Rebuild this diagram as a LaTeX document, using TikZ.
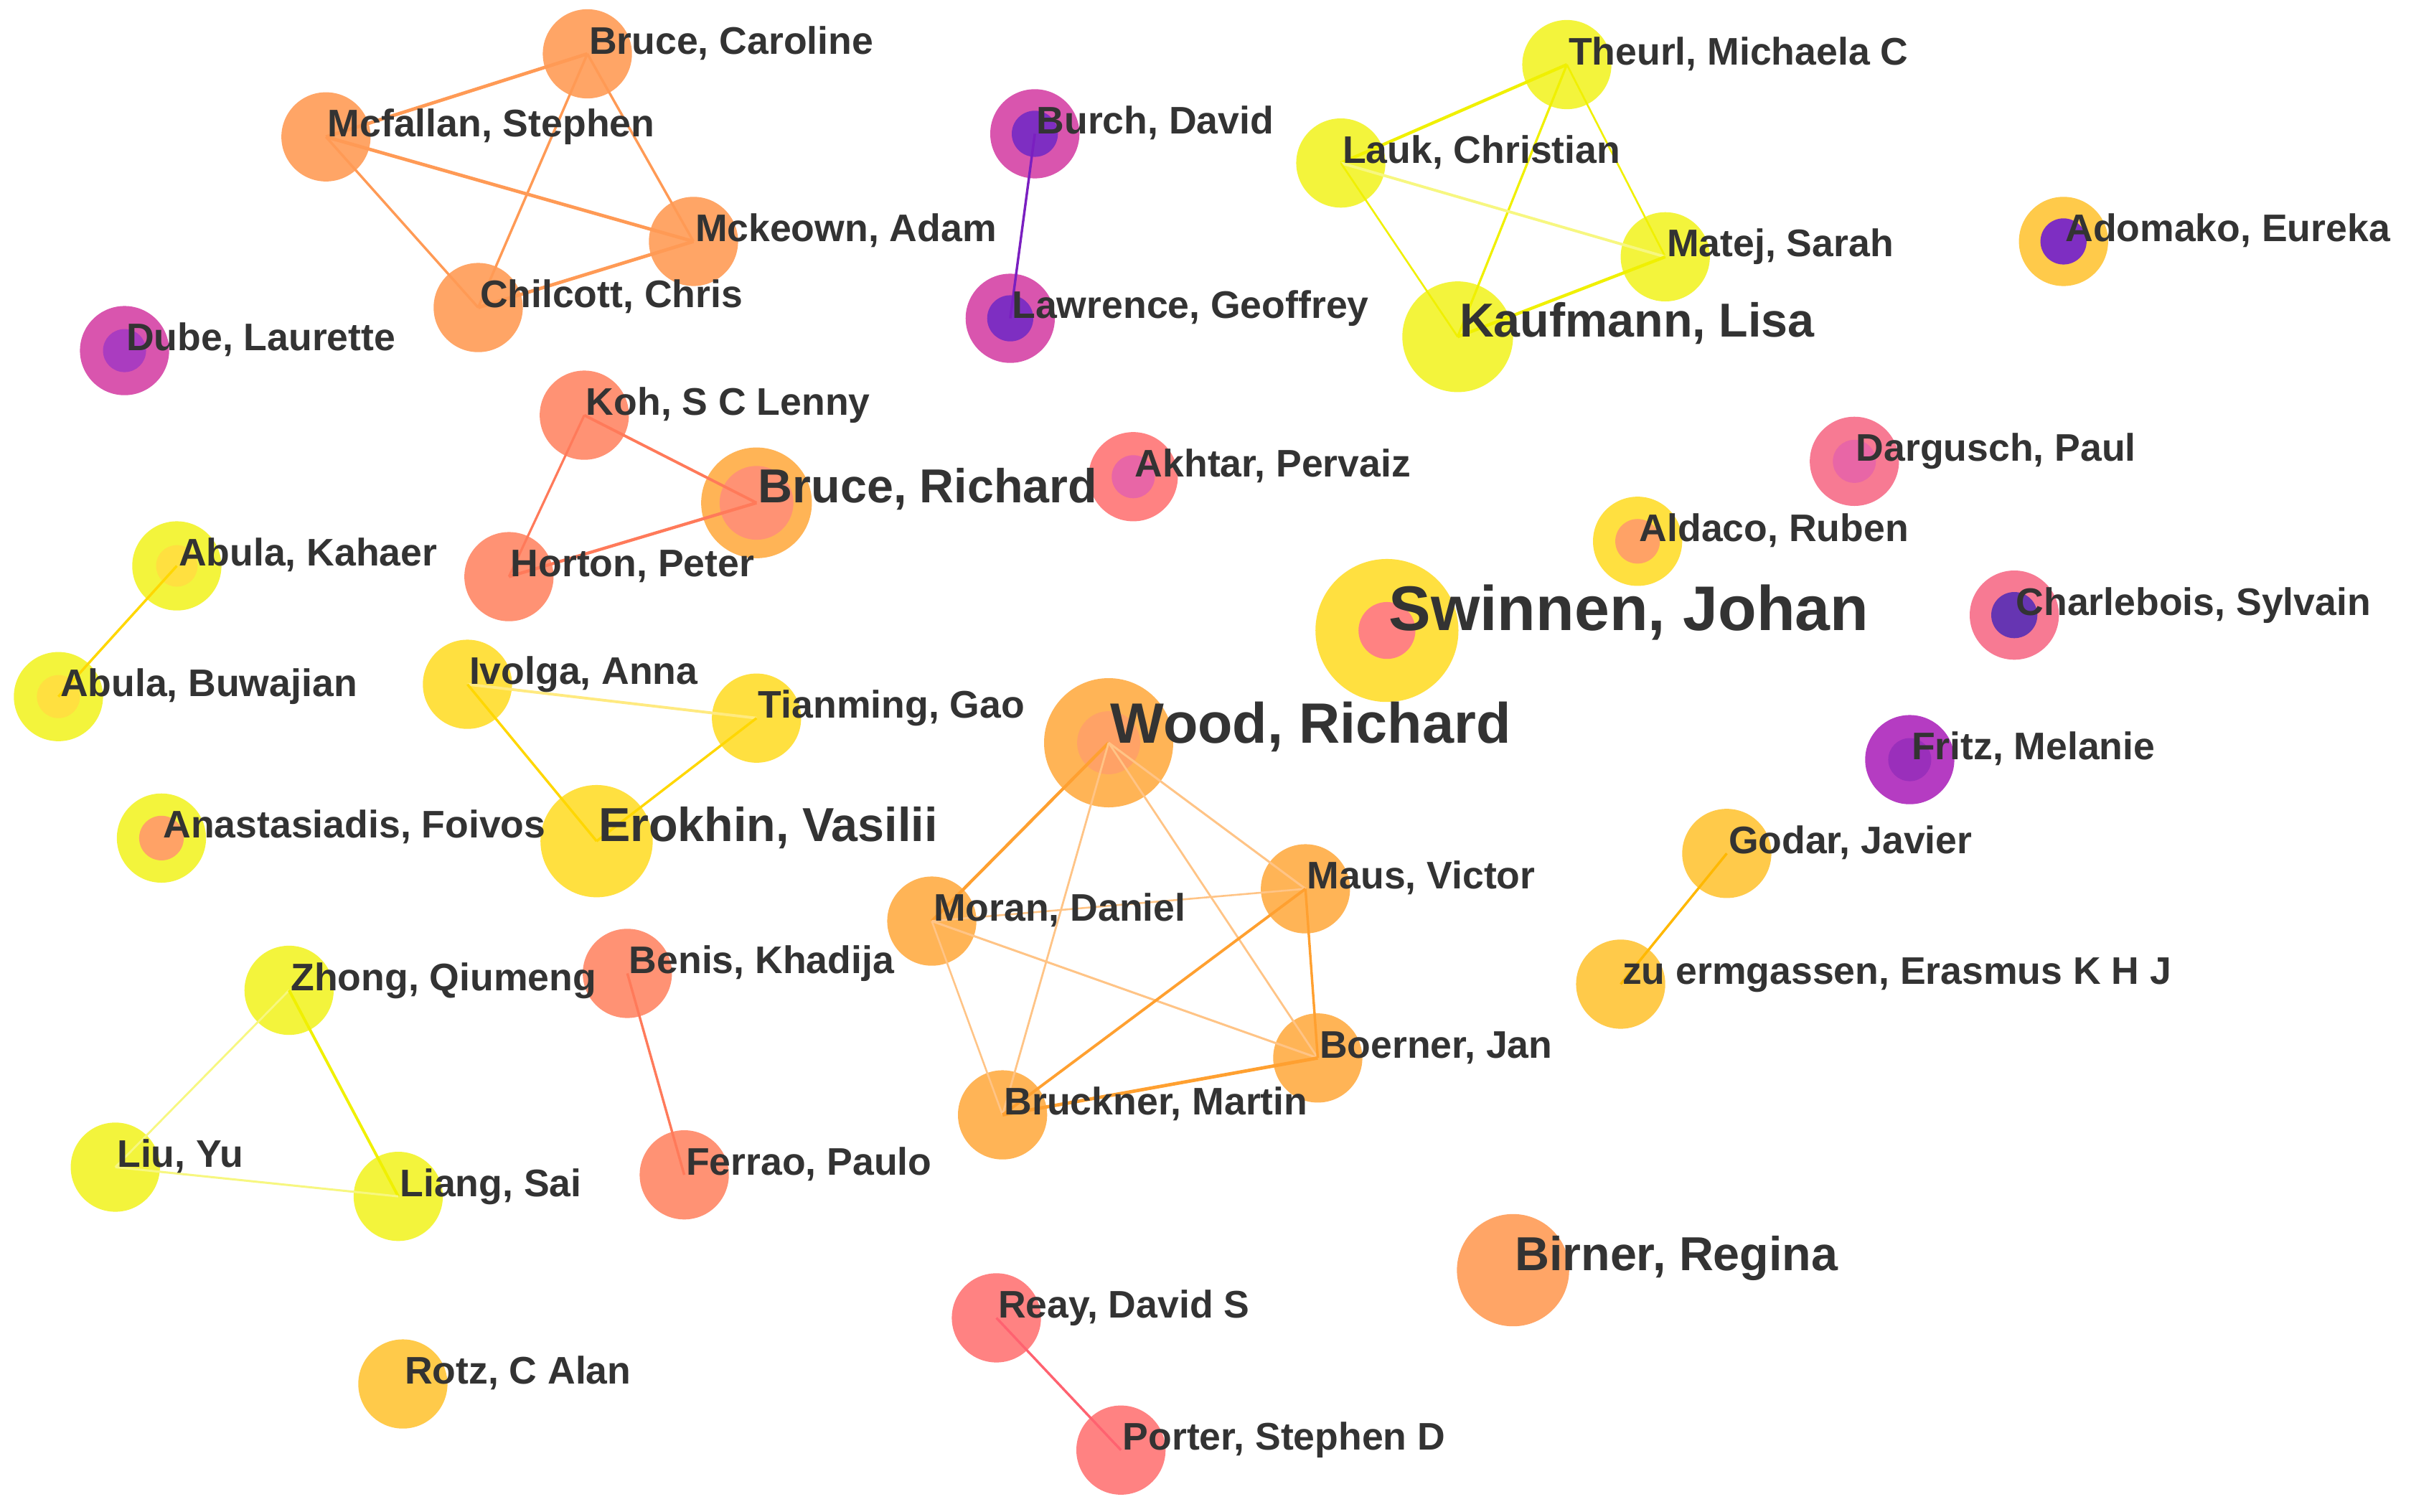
\documentclass[tikz,border=0pt]{standalone}
\usepackage{fontspec}
\setmainfont{Liberation Sans}
\definecolor{cOr}{HTML}{FFA566}
\definecolor{cMg}{HTML}{D955AE}
\definecolor{cMgi}{HTML}{AA3CC0}
\definecolor{cPu}{HTML}{7E2EC2}
\definecolor{cYe}{HTML}{F3F43C}
\definecolor{cGo}{HTML}{FFE040}
\definecolor{cAm}{HTML}{FFCA4A}
\definecolor{cSa}{HTML}{FF9274}
\definecolor{cPk}{HTML}{FF8282}
\definecolor{cRo}{HTML}{F77A93}
\definecolor{cLo}{HTML}{FFB456}
\definecolor{cLoi}{HTML}{FFA266}
\definecolor{cVi}{HTML}{B53CC2}
\definecolor{cVii}{HTML}{9A2FBB}
\definecolor{cPi}{HTML}{E866A6}
\definecolor{cPui}{HTML}{6635B2}
\definecolor{tx}{HTML}{333333}
\definecolor{eOr}{HTML}{FF9A55}
\definecolor{ePu}{HTML}{7A1FC0}
\definecolor{eYe}{HTML}{F0F000}
\definecolor{eYp}{HTML}{F7F780}
\definecolor{eSa}{HTML}{FF7A5A}
\definecolor{eGo}{HTML}{FFD700}
\definecolor{eGp}{HTML}{FFEA80}
\definecolor{eWo}{HTML}{FFA030}
\definecolor{eWp}{HTML}{FFC486}
\definecolor{eAm}{HTML}{FFB800}
\definecolor{ePk}{HTML}{FF6270}
\newcommand\fsA{\fontsize{25}{30}\selectfont\bfseries}
\newcommand\fsB{\fontsize{31}{36}\selectfont\bfseries}
\newcommand\fsC{\fontsize{37}{42}\selectfont\bfseries}
\newcommand\fsD{\fontsize{41}{46}\selectfont\bfseries}
\tikzset{
  au/.style 2 args={circle, fill=#1, draw=none, minimum size=#2 pt, inner sep=0pt},
  lab/.style={anchor=base west, inner sep=0pt, xshift=1pt, text=tx, font=\fsA},
  labB/.style={lab, font=\fsB},
  labC/.style={lab, font=\fsC},
  labD/.style={lab, font=\fsD},
  lk/.style 2 args={draw=#1, line width=#2 pt}
}
\begin{document}
\begin{tikzpicture}[x=1pt, y=-1pt]
\useasboundingbox[fill=white] (0,0) rectangle (1568,983);
% ---------- nodes (circles)
\node[au={cOr}{58}] (brc) at (382,35) {};
\node[au={cOr}{58}] (mcf) at (212,89) {};
\node[au={cOr}{58}] (mck) at (451,157) {};
\node[au={cOr}{58}] (chi) at (311,200) {};
\node[au={cMg}{58}] (dub) at (81,228) {};
\node[au={cMg}{58}] (bur) at (673,87) {};
\node[au={cMg}{58}] (law) at (657,207) {};
\node[au={cYe}{58}] (the) at (1019,42) {};
\node[au={cYe}{58}] (lau) at (872,106) {};
\node[au={cYe}{58}] (mat) at (1083,167) {};
\node[au={cYe}{72}] (kau) at (948,219) {};
\node[au={cAm}{58}] (ado) at (1342,157) {};
\node[au={cSa}{58}] (koh) at (380,270) {};
\node[au={cLo}{72}] (bri) at (492,327) {};
\node[au={cSa}{58}] (hor) at (331,375) {};
\node[au={cPk}{58}] (akh) at (737,310) {};
\node[au={cRo}{58}] (dar) at (1206,300) {};
\node[au={cGo}{58}] (ald) at (1065,352) {};
\node[au={cGo}{93}] (swi) at (902,410) {};
\node[au={cRo}{58}] (cha) at (1310,400) {};
\node[au={cYe}{58}] (abk) at (115,368) {};
\node[au={cYe}{58}] (abb) at (38,453) {};
\node[au={cGo}{58}] (ivo) at (304,445) {};
\node[au={cGo}{58}] (tia) at (492,467) {};
\node[au={cGo}{73}] (ero) at (388,547) {};
\node[au={cYe}{58}] (ana) at (105,545) {};
\node[au={cLo}{84}] (woo) at (721,483) {};
\node[au={cVi}{58}] (fri) at (1242,494) {};
\node[au={cAm}{58}] (god) at (1123,555) {};
\node[au={cAm}{58}] (zue) at (1054,640) {};
\node[au={cLo}{58}] (mor) at (606,599) {};
\node[au={cLo}{58}] (mau) at (849,578) {};
\node[au={cLo}{58}] (boe) at (857,688) {};
\node[au={cLo}{58}] (bru) at (652,725) {};
\node[au={cYe}{58}] (zho) at (188,644) {};
\node[au={cSa}{58}] (ben) at (408,633) {};
\node[au={cYe}{58}] (liu) at (75,759) {};
\node[au={cYe}{58}] (lia) at (259,778) {};
\node[au={cSa}{58}] (fer) at (445,764) {};
\node[au={cOr}{73}] (bir) at (984,826) {};
\node[au={cPk}{58}] (rea) at (648,857) {};
\node[au={cAm}{58}] (rot) at (262,900) {};
\node[au={cPk}{58}] (por) at (729,943) {};
% ---------- inner rings
\fill[cMgi] (dub.center) circle[radius=14pt];
\fill[cPu] (bur.center) circle[radius=15pt];
\fill[cPu] (law.center) circle[radius=15pt];
\fill[cPu] (ado.center) circle[radius=15pt];
\fill[cSa] (bri.center) circle[radius=24pt];
\fill[cPi] (akh.center) circle[radius=14pt];
\fill[cPi] (dar.center) circle[radius=14pt];
\fill[cLoi] (ald.center) circle[radius=14.5pt];
\fill[cPk] (swi.center) circle[radius=18.5pt];
\fill[cPui] (cha.center) circle[radius=15pt];
\fill[cGo] (abk.center) circle[radius=13.5pt];
\fill[cGo] (abb.center) circle[radius=14pt];
\fill[cLoi] (ana.center) circle[radius=14.5pt];
\fill[cLoi] (woo.center) circle[radius=20.5pt];
\fill[cVii] (fri.center) circle[radius=14pt];
% ---------- links
\draw[lk={eOr}{2.2}] (brc.center) -- (mcf.center);
\draw[lk={eOr}{1.6}] (brc.center) -- (mck.center);
\draw[lk={eOr}{1.6}] (brc.center) -- (chi.center);
\draw[lk={eOr}{2.2}] (mcf.center) -- (mck.center);
\draw[lk={eOr}{1.6}] (mcf.center) -- (chi.center);
\draw[lk={eOr}{2.2}] (chi.center) -- (mck.center);
\draw[lk={ePu}{1.6}] (bur.center) -- (law.center);
\draw[lk={eYe}{2.0}] (the.center) -- (lau.center);
\draw[lk={eYe}{1.2}] (the.center) -- (mat.center);
\draw[lk={eYe}{1.5}] (the.center) -- (kau.center);
\draw[lk={eYp}{1.8}] (lau.center) -- (mat.center);
\draw[lk={eYe}{1.2}] (lau.center) -- (kau.center);
\draw[lk={eYe}{2.0}] (mat.center) -- (kau.center);
\draw[lk={eSa}{1.8}] (koh.center) -- (bri.center);
\draw[lk={eSa}{1.5}] (koh.center) -- (hor.center);
\draw[lk={eSa}{2.0}] (hor.center) -- (bri.center);
\draw[lk={eGo}{1.6}] (abk.center) -- (abb.center);
\draw[lk={eGp}{1.8}] (ivo.center) -- (tia.center);
\draw[lk={eGo}{1.6}] (ivo.center) -- (ero.center);
\draw[lk={eGo}{1.6}] (tia.center) -- (ero.center);
\draw[lk={eWo}{2.0}] (woo.center) -- (mor.center);
\draw[lk={eWp}{1.3}] (woo.center) -- (bru.center);
\draw[lk={eWp}{1.3}] (woo.center) -- (boe.center);
\draw[lk={eWp}{1.4}] (woo.center) -- (mau.center);
\draw[lk={eWp}{1.2}] (mor.center) -- (mau.center);
\draw[lk={eWp}{1.4}] (mor.center) -- (boe.center);
\draw[lk={eWp}{1.2}] (mor.center) -- (bru.center);
\draw[lk={eWo}{1.6}] (mau.center) -- (boe.center);
\draw[lk={eWo}{1.8}] (mau.center) -- (bru.center);
\draw[lk={eWo}{2.2}] (bru.center) -- (boe.center);
\draw[lk={eAm}{1.6}] (god.center) -- (zue.center);
\draw[lk={eYp}{1.3}] (zho.center) -- (liu.center);
\draw[lk={eYe}{1.8}] (zho.center) -- (lia.center);
\draw[lk={eYp}{1.4}] (liu.center) -- (lia.center);
\draw[lk={eSa}{1.6}] (ben.center) -- (fer.center);
\draw[lk={ePk}{1.6}] (rea.center) -- (por.center);
% ---------- labels
\node[lab] (brc-l) at (brc.center) {Bruce, Caroline};
\node[lab] (mcf-l) at (mcf.center) {Mcfallan, Stephen};
\node[lab] (mck-l) at (mck.center) {Mckeown, Adam};
\node[lab] (chi-l) at (chi.center) {Chilcott, Chris};
\node[lab] (dub-l) at (dub.center) {Dube, Laurette};
\node[lab] (bur-l) at (bur.center) {Burch, David};
\node[lab] (law-l) at (law.center) {Lawrence, Geoffrey};
\node[lab] (the-l) at (the.center) {Theurl, Michaela C};
\node[lab] (lau-l) at (lau.center) {Lauk, Christian};
\node[lab] (mat-l) at (mat.center) {Matej, Sarah};
\node[labB] (kau-l) at (kau.center) {Kaufmann, Lisa};
\node[lab] (ado-l) at (ado.center) {Adomako, Eureka};
\node[lab] (koh-l) at (koh.center) {Koh, S C Lenny};
\node[labB] (bri-l) at (bri.center) {Bruce, Richard};
\node[lab] (hor-l) at (hor.center) {Horton, Peter};
\node[lab] (akh-l) at (akh.center) {Akhtar, Pervaiz};
\node[lab] (dar-l) at (dar.center) {Dargusch, Paul};
\node[lab] (ald-l) at (ald.center) {Aldaco, Ruben};
\node[labD] (swi-l) at (swi.center) {Swinnen, Johan};
\node[lab] (cha-l) at (cha.center) {Charlebois, Sylvain};
\node[lab] (abk-l) at (abk.center) {Abula, Kahaer};
\node[lab] (abb-l) at (abb.center) {Abula, Buwajian};
\node[lab] (ivo-l) at (ivo.center) {Ivolga, Anna};
\node[lab] (tia-l) at (tia.center) {Tianming, Gao};
\node[labB] (ero-l) at (ero.center) {Erokhin, Vasilii};
\node[lab] (ana-l) at (ana.center) {Anastasiadis, Foivos};
\node[labC] (woo-l) at (woo.center) {Wood, Richard};
\node[lab] (fri-l) at (fri.center) {Fritz, Melanie};
\node[lab] (god-l) at (god.center) {Godar, Javier};
\node[lab] (zue-l) at (zue.center) {zu ermgassen, Erasmus K H J};
\node[lab] (mor-l) at (mor.center) {Moran, Daniel};
\node[lab] (mau-l) at (mau.center) {Maus, Victor};
\node[lab] (boe-l) at (boe.center) {Boerner, Jan};
\node[lab] (bru-l) at (bru.center) {Bruckner, Martin};
\node[lab] (zho-l) at (zho.center) {Zhong, Qiumeng};
\node[lab] (ben-l) at (ben.center) {Benis, Khadija};
\node[lab] (liu-l) at (liu.center) {Liu, Yu};
\node[lab] (lia-l) at (lia.center) {Liang, Sai};
\node[lab] (fer-l) at (fer.center) {Ferrao, Paulo};
\node[labB] (bir-l) at (bir.center) {Birner, Regina};
\node[lab] (rea-l) at (rea.center) {Reay, David S};
\node[lab] (rot-l) at (rot.center) {Rotz, C Alan};
\node[lab] (por-l) at (por.center) {Porter, Stephen D};
\end{tikzpicture}
\end{document}
